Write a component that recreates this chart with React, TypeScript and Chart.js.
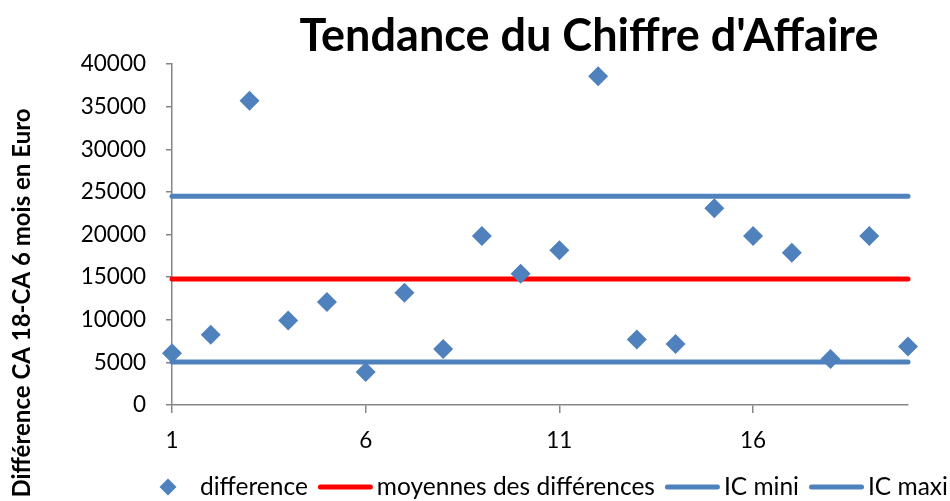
import React, { useEffect, useRef } from "react";
import { Chart, registerables } from "chart.js";

Chart.register(...registerables);

// ---- data ----
const xValues = [1, 2, 3, 4, 5, 6, 7, 8, 9, 10, 11, 12, 13, 14, 15, 16, 17, 18, 19, 20];
const differenceValues = [
  6070, 8230, 35690, 9910, 12070, 3880, 13160, 6580, 19820, 15390,
  18140, 38550, 7680, 7170, 23080, 19820, 17870, 5410, 19820, 6860,
];
const meanValue = 14780;
const icMinValue = 5050;
const icMaxValue = 24500;
const xTickValues = [1, 6, 11, 16];
const yTickValues = [0, 5000, 10000, 15000, 20000, 25000, 30000, 35000, 40000];
const seriesLabels = ["difference", "moyennes des différences", "IC mini", "IC maxi"];
const chartTitle = "Tendance du Chiffre d'Affaire";
const yAxisTitle = "Différence CA 18-CA 6 mois en Euro";

const BLUE = "#4F81BD";
const RED = "#FF0000";
const AXIS = "#868686";
const FONT = "Lato";

const hLine = (v: number) => [
  { x: xValues[0], y: v },
  { x: xValues[xValues.length - 1], y: v },
];

const overlayPlugin = {
  id: "overlay",
  afterDraw(chart: any) {
    const ctx = chart.ctx as CanvasRenderingContext2D;
    ctx.save();
    // title
    ctx.fillStyle = "#000";
    ctx.font = `bold 45px ${FONT}`;
    ctx.textAlign = "center";
    ctx.textBaseline = "alphabetic";
    ctx.fillText(chartTitle, 589, 51);

    // y axis title
    ctx.save();
    ctx.translate(30, 303);
    ctx.rotate(-Math.PI / 2);
    ctx.font = `bold 24px ${FONT}`;
    ctx.textAlign = "center";
    ctx.textBaseline = "alphabetic";
    ctx.fillText(yAxisTitle, 0, 0);
    ctx.restore();

    // legend
    const ly = 487;
    let x = 160;
    ctx.font = `24.5px ${FONT}`;
    ctx.textAlign = "left";
    ctx.textBaseline = "middle";
    chart.data.datasets.forEach((ds: any, i: number) => {
      if (i === 0) {
        const r = 8.5;
        ctx.beginPath();
        ctx.moveTo(x + 8 - r, ly);
        ctx.lineTo(x + 8, ly - r);
        ctx.lineTo(x + 8 + r, ly);
        ctx.lineTo(x + 8, ly + r);
        ctx.closePath();
        ctx.fillStyle = ds.backgroundColor;
        ctx.fill();
        x = 200;
      } else {
        x += 10;
        ctx.beginPath();
        ctx.lineCap = "round";
        ctx.lineWidth = 5;
        ctx.strokeStyle = ds.borderColor;
        ctx.moveTo(x + 2.5, ly);
        ctx.lineTo(x + 52.5, ly);
        ctx.stroke();
        x += 59;
      }
      ctx.fillStyle = "#000";
      ctx.fillText(ds.label, x, ly);
      x += ctx.measureText(ds.label).width;
    });
    ctx.restore();
  },
};

export default function App() {
  const ref = useRef<HTMLCanvasElement | null>(null);

  useEffect(() => {
    if (!ref.current) return;
    const lineDs = (label: string, v: number, color: string) => ({
      type: "scatter" as const,
      label,
      data: hLine(v),
      showLine: true,
      borderColor: color,
      backgroundColor: color,
      borderWidth: 5,
      borderCapStyle: "round" as const,
      pointRadius: 0,
      pointHoverRadius: 0,
      clip: false as const,
    });
    const chart = new Chart(ref.current, {
      type: "scatter",
      data: {
        datasets: [
          {
            label: seriesLabels[0],
            data: xValues.map((x, i) => ({ x, y: differenceValues[i] })),
            pointStyle: "rectRot",
            pointRadius: 10,
            pointBorderWidth: 0,
            backgroundColor: BLUE,
            borderColor: BLUE,
            showLine: false,
            clip: false as const,
          },
          lineDs(seriesLabels[1], meanValue, RED),
          lineDs(seriesLabels[2], icMinValue, BLUE),
          lineDs(seriesLabels[3], icMaxValue, BLUE),
        ] as any,
      },
      options: {
        animation: false,
        responsive: true,
        maintainAspectRatio: false,
        layout: { padding: { top: 64, right: 42, bottom: 0, left: 0 } },
        plugins: {
          legend: { display: false },
          title: { display: false },
          tooltip: { enabled: false },
        },
        scales: {
          x: {
            type: "linear",
            min: xValues[0],
            max: xValues[xValues.length - 1],
            afterBuildTicks: (s: any) => {
              s.ticks = xTickValues.map((v) => ({ value: v }));
            },
            afterFit: (s: any) => {
              s.height = 96;
            },
            ticks: {
              autoSkip: false,
              maxRotation: 0,
              padding: 14,
              color: "#000",
              font: { family: FONT, size: 22.5 },
            },
            grid: {
              display: true,
              drawOnChartArea: false,
              drawTicks: true,
              tickLength: 8,
              color: AXIS,
              lineWidth: 1.5,
            },
            border: { display: true, color: AXIS, width: 1.5 },
          },
          y: {
            type: "linear",
            min: yTickValues[0],
            max: yTickValues[yTickValues.length - 1],
            afterBuildTicks: (s: any) => {
              s.ticks = yTickValues.map((v) => ({ value: v }));
            },
            afterFit: (s: any) => {
              s.width = 172;
            },
            ticks: {
              padding: 20,
              color: "#000",
              font: { family: FONT, size: 22.5 },
              callback: (v: any) => String(v),
            },
            grid: {
              display: true,
              drawOnChartArea: false,
              drawTicks: true,
              tickLength: 6,
              color: AXIS,
              lineWidth: 1.5,
            },
            border: { display: true, color: AXIS, width: 1.5 },
          },
        },
      },
      plugins: [overlayPlugin],
    });
    return () => chart.destroy();
  }, []);

  return (
    <div
      style={{
        position: "fixed",
        left: 0,
        top: 0,
        width: 950,
        height: 501,
        background: "#fff",
      }}
    >
      <canvas ref={ref} />
    </div>
  );
}
